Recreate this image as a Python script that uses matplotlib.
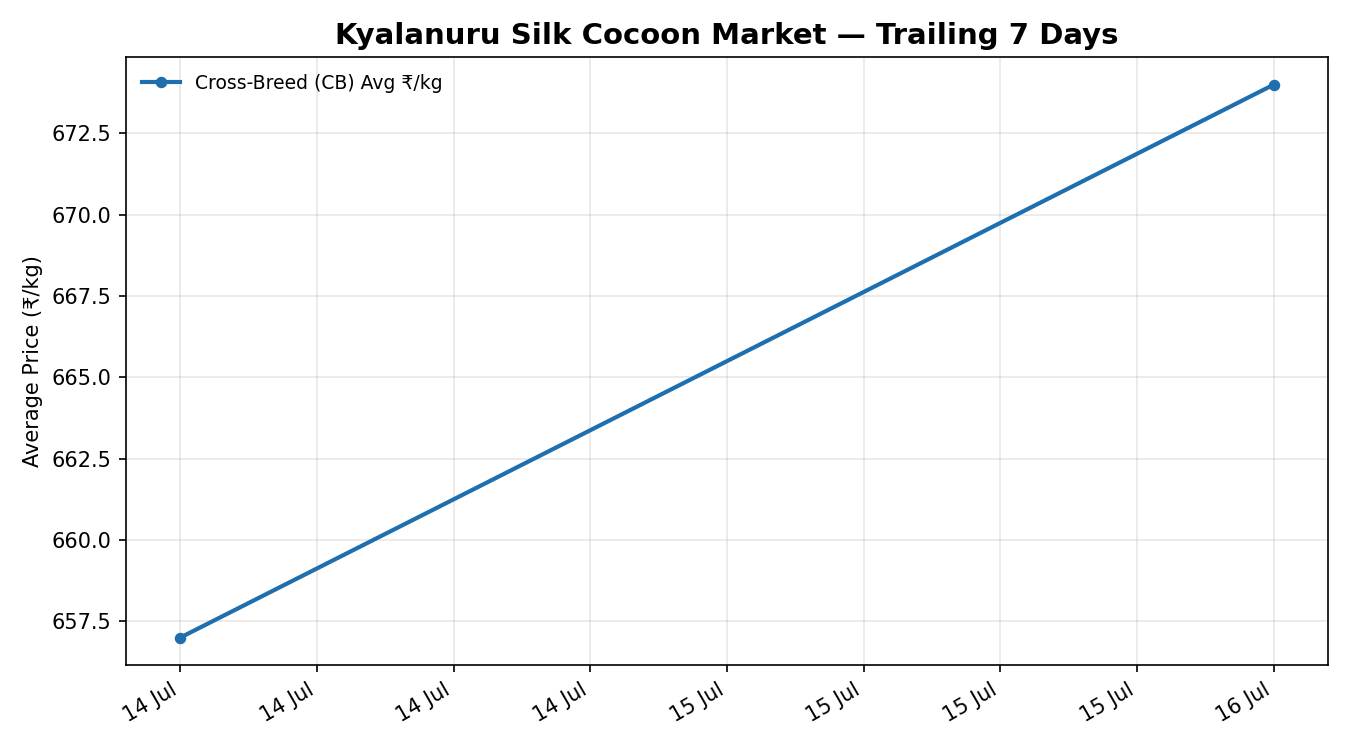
import numpy as np
import pandas as pd
import matplotlib
matplotlib.use('Agg')
from matplotlib import pyplot as plt
import matplotlib.dates as mdates

# Market data: cross-breed cocoon average price
dates = pd.to_datetime(['2024-07-14', '2024-07-16'])
prices = [657.0, 674.0]
series_label = 'Cross-Breed (CB) Avg ₹/kg'

fig, ax = plt.subplots(figsize=(9, 5), dpi=150)
ax.plot(dates, prices, '-o', color='#1f6fae', lw=2, ms=4.5, label=series_label)

ax.set_title('Kyalanuru Silk Cocoon Market — Trailing 7 Days', fontsize=14, fontweight='bold')
ax.set_ylabel('Average Price (₹/kg)')
ax.grid(True, alpha=0.3)
ax.legend(loc='upper left', frameon=False, fontsize=9)

ax.xaxis.set_major_locator(mdates.HourLocator(byhour=[0, 6, 12, 18]))
ax.xaxis.set_major_formatter(mdates.DateFormatter('%d %b'))
fig.autofmt_xdate()

fig.subplots_adjust(left=0.093, right=0.984, top=0.924, bottom=0.113)
fig.savefig('out.png', dpi=150)
